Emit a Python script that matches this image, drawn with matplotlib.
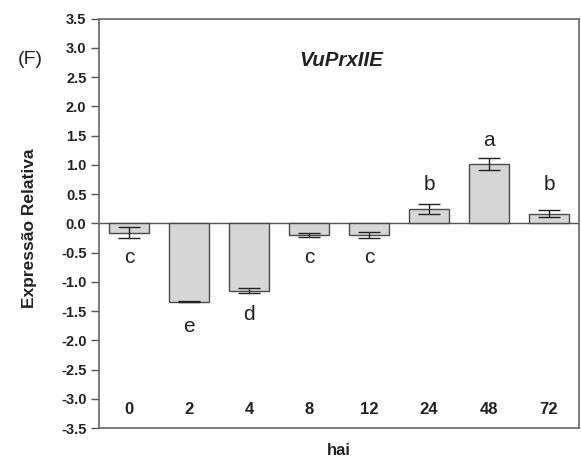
import matplotlib
matplotlib.use("Agg")
import matplotlib.pyplot as plt
import numpy as np

plt.rcParams['font.family'] = ['Liberation Sans', 'DejaVu Sans']

categories = ['0', '2', '4', '8', '12', '24', '48', '72']
values = [-0.16, -1.345, -1.15, -0.20, -0.20, 0.24, 1.01, 0.165]
errors = [0.09, 0.008, 0.04, 0.035, 0.055, 0.09, 0.105, 0.065]
letters = ['c', 'e', 'd', 'c', 'c', 'b', 'a', 'b']
letter_y = [-0.58, -1.77, -1.56, -0.59, -0.59, 0.67, 1.42, 0.67]
yticks = [-3.5, -3.0, -2.5, -2.0, -1.5, -1.0, -0.5, 0.0, 0.5, 1.0, 1.5, 2.0, 2.5, 3.0, 3.5]

fig = plt.figure(figsize=(5.81, 4.61), dpi=100)
ax = fig.add_axes([99/581, 1 - 428/461, 480/581, (428 - 18.5)/461])

x = np.arange(len(categories))
ax.bar(x, values, width=0.67, color='#d6d6d6', edgecolor='#4a4a4a', linewidth=1.0, zorder=2)
ax.errorbar(x, values, yerr=errors, fmt='none', ecolor='#222222', elinewidth=1.0,
            capsize=8, capthick=1.0, zorder=3)
ax.axhline(0, color='#555555', linewidth=1.0, zorder=1)

for xi, lt, ly in zip(x, letters, letter_y):
    ax.text(xi, ly, lt, ha='center', va='center', fontsize=15, color='#222222')

for xi, c in zip(x, categories):
    ax.text(xi, -3.19, c, ha='center', va='center', fontsize=12, fontweight='bold', color='#222222')

ax.set_xlim(-0.5, 7.5)
ax.set_ylim(-3.5, 3.5)
ax.set_yticks(yticks)
ax.set_yticklabels([f'{t:.1f}' for t in yticks], fontsize=10.5, fontweight='bold', color='#222222')
ax.set_xticks([])
ax.tick_params(axis='y', direction='out', length=6, width=1, color='#555555', pad=3)
for s in ax.spines.values():
    s.set_color('#666666')
    s.set_linewidth(1.2)

fig.text(30/581, 1 - 228/461, 'Expressão Relativa', rotation=90, ha='center', va='center',
         fontsize=12.5, fontweight='bold', color='#222222')
fig.text(339/581, 1 - 450/461, 'hai', ha='center', va='center',
         fontsize=12, fontweight='bold', color='#222222')

ax.text(3.54, 2.78, 'VuPrxIIE', ha='center', va='center', fontsize=14.8, fontweight='bold',
        fontstyle='italic', color='#222222')
fig.text(30/581, 1 - 60/461, '(F)', ha='center', va='center', fontsize=14, color='#222222')

fig.savefig('out.png', dpi=100)
